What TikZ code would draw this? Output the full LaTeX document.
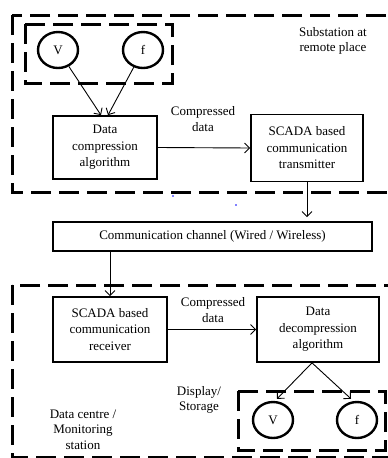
\documentclass[tikz,border=0pt]{standalone}
\usepackage{fontspec}
\setmainfont{Liberation Serif}
\usetikzlibrary{arrows.meta,shapes.geometric}
\begin{document}
\begin{tikzpicture}[x=1pt,y=-1pt,
  txt/.style={align=center,inner sep=0pt,font=\fontsize{13}{15.5}\selectfont},
  box/.style={txt,draw,line width=1.7pt,font=\fontsize{13}{16.5}\selectfont},
  circ/.style={txt,draw,ellipse,line width=2.4pt,minimum width=40pt,minimum height=36pt},
  dbox/.style={draw,line width=3pt,dash pattern=on 20pt off 8pt},
  arr/.style={-{Straight Barb[length=5pt,width=10pt]},line width=0.9pt}]
\clip (0,0) rectangle (388,458);
\fill[white] (0,0) rectangle (388,458);
% dashed regions
\draw[dbox] (12,15) rectangle (400,192);
\draw[dbox] (25,24) rectangle (172,83);
\draw[dbox] (12,285) rectangle (400,457);
\draw[dbox] (238,391) rectangle (385,450);
% nodes
\node[circ] (Vt) at (58,50) {V};
\node[circ] (ft) at (143,50) {f};
\node[box,minimum width=104pt,minimum height=63pt] (comp) at (105,147.5) {Data\\compression\\algorithm};
\node[box,minimum width=112pt,minimum height=67pt] (tx) at (307,148) {SCADA based\\communication\\transmitter};
\node[box,minimum width=319pt,minimum height=29pt] (ch) at (212.5,236.5) {Communication channel (Wired / Wireless)};
\node[box,minimum width=114pt,minimum height=65pt] (rx) at (110,329.5) {SCADA based\\communication\\receiver};
\node[box,minimum width=122pt,minimum height=65pt] (dec) at (318,329.5) {Data\\decompression\\algorithm};
\node[circ] (Vb) at (273,420) {V};
\node[circ] (fb) at (357,420) {f};
% labels
\node[txt] (l1) at (203,119) {Compressed\\data};
\node[txt] (l2) at (213,310) {Compressed\\data};
\node[txt] (l3) at (333,41) {Substation at\\remote place};
\node[txt] (l4) at (199,400) {Display/\\Storage};
\node[txt] (l5) at (83,429.5) {Data centre /\\Monitoring\\station};
% blue specks
\fill[blue] (173,196) circle (0.9);
\fill[blue] (236,205) circle (0.9);
% connectors
\draw[arr] (Vt) -- ([xshift=-4pt]comp.north);
\draw[arr] (ft) -- ([xshift=3pt]comp.north);
\draw[arr] (comp.east) -- (tx.west);
\draw[arr] (tx.south) -- ([yshift=4pt]tx.south |- ch.north);
\draw[arr] (rx.north |- ch.south) -- (rx.north);
\draw[arr] (rx.east) -- (dec.west);
\draw[arr] ([xshift=-6pt]dec.south) -- ([xshift=4pt,yshift=2pt]Vb.north);
\draw[arr] ([xshift=-6pt]dec.south) -- ([xshift=-6pt,yshift=2pt]fb.north);
\end{tikzpicture}
\end{document}
